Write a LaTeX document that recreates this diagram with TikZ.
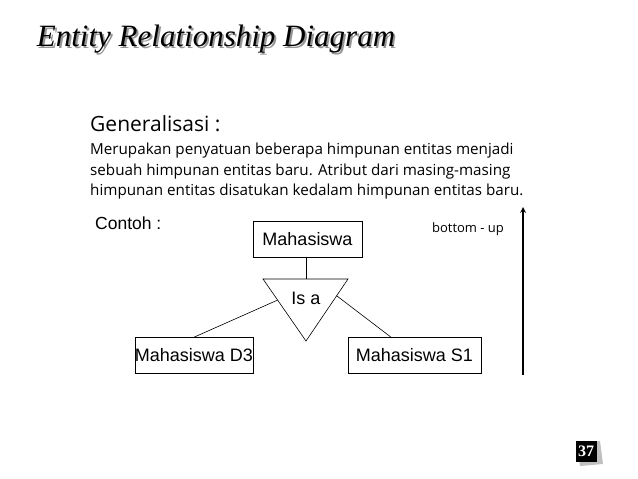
\documentclass[tikz,border=0pt]{standalone}
\usepackage{fontspec}
\setmainfont{Liberation Sans}
\newfontfamily\titlefont{Liberation Serif}
\newfontfamily\comicfont{Open Sans}
\usepackage{xcolor}
\definecolor{sombra}{RGB}{150,150,150}
\usepackage{tikz}
\usetikzlibrary{arrows,calc,positioning}
\tikzstyle{entity}=[rectangle, draw, line width=0.6pt, inner sep=0pt,
                    minimum width=109pt, minimum height=36pt,
                    font=\fontsize{18}{20}\selectfont]
\tikzstyle{edge}  =[line width=0.6pt]
\tikzstyle{upline}=[line width=1.6pt, -stealth]
\tikzstyle{comic}=[inner sep=0pt, anchor=west, font=\comicfont\fontsize{15.2}{18}\selectfont]

\begin{document}
\begin{tikzpicture}[x=1pt,y=-1pt]
    \useasboundingbox (0,0) rectangle (638,479);

    % judul
    \draw (216,40) node (judul) [font=\titlefont\itshape\fontsize{31}{36}\selectfont]
        {\rlap{\kern2pt\raisebox{-2pt}{\color{sombra}Entity Relationship Diagram}}Entity Relationship Diagram};

    \draw (90,124) node (gen) [comic, font=\comicfont\fontsize{21}{24}\selectfont] {Generalisasi :};
    \draw (90,151) node (baris1) [comic] {Merupakan penyatuan beberapa himpunan entitas menjadi};
    \draw (90,172) node (baris2) [comic] {sebuah himpunan entitas baru. Atribut dari masing-masing};
    \draw (90,192) node (baris3) [comic] {himpunan entitas disatukan kedalam himpunan entitas baru.};

    \draw (95,223) node (contoh) [inner sep=0pt, anchor=west, font=\fontsize{17.5}{20}\selectfont] {Contoh :};
    \draw (468,229) node (arah) [inner sep=0pt, font=\comicfont\fontsize{13}{15}\selectfont] {bottom - up};

    % entitas
    \draw (307.5,239) node (mhs) [entity] {Mahasiswa};
    \draw (194,355.5) node (d3) [entity, minimum width=116pt] {Mahasiswa D3};
    \draw (414.5,355.5) node (s1) [entity, minimum width=133pt] {Mahasiswa S1};

    % segitiga is a
    \coordinate (ta) at (263,279);
    \coordinate (tb) at (348,279);
    \coordinate (tc) at (306,341);
    \draw [edge] (ta) -- (tb) -- (tc) -- cycle;
    \draw (306,298) node (isa) [font=\fontsize{18}{20}\selectfont] {Is a};
    \coordinate (kiri) at ($(ta)!0.34!(tc)$);
    \coordinate (kanan) at ($(tb)!0.27!(tc)$);

    \draw [edge] (mhs.south -| tc) -- (ta -| tc);
    \draw [edge] (kiri) -- (d3.north);
    \draw [edge] (kanan) -- (s1.north -| 391,0);

    % panah
    \coordinate (bawah) at (523,375);
    \coordinate (atas) at (523,207);
    \draw [upline] (bawah) -- (atas);

    % nomor halaman
    \fill [sombra!60] (577,444) -- (600,441) -- (603,464) -- (580,466) -- cycle;
    \draw (586,451.5) node (hal) [fill=black, text=white, inner sep=0pt, minimum size=21pt,
        font=\titlefont\bfseries\fontsize{16}{18}\selectfont] {37};
\end{tikzpicture}
\end{document}
